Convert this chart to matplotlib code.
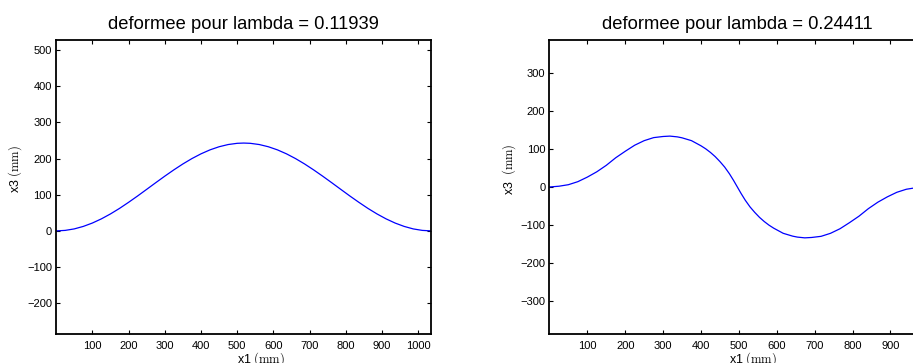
import numpy as np
import matplotlib
matplotlib.use("Agg")
import matplotlib.pyplot as plt

plt.rcParams['font.family'] = ['Liberation Sans', 'DejaVu Sans']
plt.rcParams['mathtext.fontset'] = 'cm'

# premier mode (lambda = 0.11939)
x_g = [0, 25, 50, 75, 100, 125, 150, 175, 200, 225, 250, 275, 300, 325, 350, 375, 400,
       425, 450, 475, 500, 518, 536, 561, 586, 611, 636, 661, 686, 711, 736, 761, 786,
       811, 836, 861, 886, 911, 936, 961, 986, 1011, 1036]
y_g = [0, 1.4, 5.5, 12.4, 21.7, 33.3, 46.9, 62.2, 79.0, 96.6, 114.9, 133.3, 151.4, 168.8,
       185.2, 200.1, 213.2, 224.2, 232.8, 238.9, 242.3, 243.0, 242.3, 238.9, 232.8, 224.2,
       213.2, 200.1, 185.2, 168.8, 151.4, 133.3, 114.9, 96.6, 79.0, 62.2, 46.9, 33.3,
       21.7, 12.4, 5.5, 1.4, 0]

# second mode (lambda = 0.24411)
x_d = [0, 25, 50, 75, 100, 125, 150, 175, 200, 225, 250, 275, 300, 318, 337.5, 350,
       375, 400, 412.5, 425, 437.5, 450, 462.5, 475, 486, 496, 506, 517, 529.5, 542,
       554.5, 567, 579.5, 592, 617, 642, 654.5, 674, 692, 717, 742, 767, 792, 817, 842,
       867, 892, 917, 942, 967, 992]
y_d = [0, 2, 6, 14, 26, 40, 57, 77, 94, 110, 122, 130, 133, 134, 132, 129.5,
       122, 108.5, 100.5, 91, 80, 67, 52.5, 35, 17.3, 0, -17.3, -35, -52.5, -67,
       -80, -91, -100.5, -108.5, -122, -129.5, -132, -134, -133, -130, -122, -110, -94, -77, -57,
       -40, -26, -14, -6, -2, 0]

titres = ["deformee pour lambda = 0.11939", "deformee pour lambda = 0.24411"]

fig = plt.figure(figsize=(9.13, 3.63), dpi=100)
ax1 = fig.add_axes([0.06145, 0.0791, 0.4110, 0.8116])
ax2 = fig.add_axes([0.6018, 0.0791, 0.4116, 0.8116])

def regle(ax, x, y, titre, xl, yl, xt, yt, ylab, xlab_x, ylab_x):
    ax.plot(x, y, color=(0, 0, 1), lw=0.9)
    ax.set_xlim(xl)
    ax.set_ylim(yl)
    ax.set_xticks(xt)
    ax.set_yticks(yt)
    ax.tick_params(direction='in', top=True, right=True, length=3, width=0.8,
                   labelsize=8)
    ax.tick_params(axis='x', pad=4.5)
    ax.tick_params(axis='y', pad=3)
    for s in ax.spines.values():
        s.set_linewidth(1.3)
    ax.set_title(titre, fontsize=13.2, pad=8)
    ax.set_xlabel(r"x1 $\mathrm{(mm)}$", fontsize=9, va='center')
    ax.xaxis.set_label_coords(xlab_x, -0.084)
    ax.set_ylabel(ylab, fontsize=9, va='center')
    ax.yaxis.set_label_coords(ylab_x, 0.561)

regle(ax1, x_g, y_g, titres[0], (0, 1036), (-286, 529),
      range(100, 1001, 100), range(-200, 501, 100),
      r"x3 $\mathrm{(mm)}$", 0.5456, -0.1095)
regle(ax2, x_d, y_d, titres[1], (0, 992), (-388, 388),
      range(100, 901, 100), range(-300, 301, 100),
      r"x3  $\mathrm{(mm)}$", 0.5418, -0.1075)

fig.savefig("out.png", dpi=100)
